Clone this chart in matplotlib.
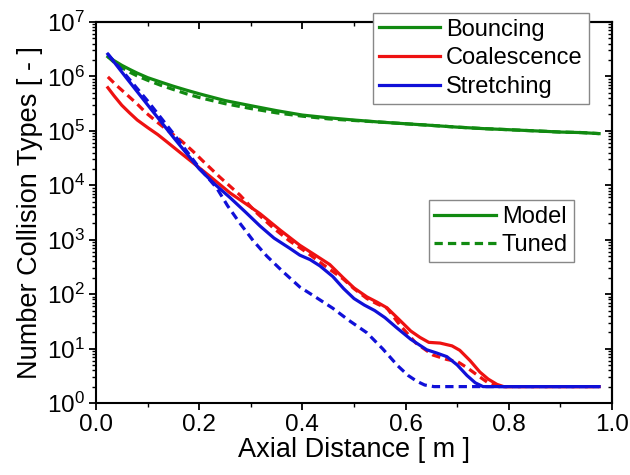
import numpy as np
import matplotlib
matplotlib.use('Agg')
import matplotlib.pyplot as plt
from matplotlib.ticker import LogLocator, MultipleLocator, NullFormatter
from matplotlib.lines import Line2D

plt.rcParams['font.family'] = ['Liberation Sans', 'DejaVu Sans']
plt.rcParams['mathtext.fontset'] = 'custom'
plt.rcParams['mathtext.rm'] = 'Liberation Sans'

# data (x in m, y as counts)
bounce_x = [0.023, 0.035, 0.05, 0.065, 0.08, 0.10, 0.125, 0.15, 0.175, 0.20, 0.25, 0.30, 0.35,
            0.40, 0.45, 0.50, 0.55, 0.60, 0.65, 0.70, 0.75, 0.80, 0.85, 0.90, 0.94, 0.975]
bounce_model = [2.3e6, 1.95e6, 1.6e6, 1.35e6, 1.15e6, 9.5e5, 7.9e5, 6.6e5, 5.6e5, 4.8e5, 3.6e5, 2.9e5, 2.35e5,
                1.95e5, 1.74e5, 1.58e5, 1.45e5, 1.35e5, 1.26e5, 1.17e5, 1.10e5, 1.05e5, 1.0e5, 9.5e4, 9.3e4, 8.9e4]
bounce_tuned = [2.3e6, 1.82e6, 1.45e6, 1.2e6, 1.02e6, 8.5e5, 6.9e5, 5.75e5, 4.8e5, 4.1e5, 3.16e5, 2.57e5, 2.14e5,
                1.86e5, 1.66e5, 1.55e5, 1.45e5, 1.35e5, 1.26e5, 1.17e5, 1.10e5, 1.05e5, 1.0e5, 9.5e4, 9.3e4, 8.9e4]

coal_x_model = [0.023, 0.035, 0.05, 0.065, 0.08, 0.10, 0.12, 0.14, 0.163, 0.19, 0.22, 0.26, 0.29, 0.318,
                0.357, 0.395, 0.425, 0.453, 0.479, 0.50, 0.525, 0.545, 0.564, 0.589, 0.61, 0.628, 0.645,
                0.667, 0.69, 0.705, 0.725, 0.744, 0.76, 0.777, 0.79, 0.975]
coal_model = [6.2e5, 4.4e5, 2.95e5, 2.14e5, 1.58e5, 1.15e5, 8.5e4, 6.0e4, 4.0e4, 2.5e4, 1.48e4, 7.2e3, 4.6e3, 3.0e3,
              1.5e3, 7.9e2, 5.2e2, 3.5e2, 2.0e2, 1.3e2, 89, 71, 56, 33, 21, 16, 13,
              12.6, 11.2, 9.3, 6.0, 3.7, 2.75, 2.2, 2.0, 2.0]
coal_x_tuned = [0.023, 0.04, 0.06, 0.08, 0.097, 0.12, 0.14, 0.165, 0.188, 0.207, 0.24, 0.279, 0.31, 0.343,
                0.375, 0.409, 0.44, 0.479, 0.50, 0.525, 0.545, 0.564, 0.589, 0.62, 0.653, 0.68, 0.70, 0.72,
                0.744, 0.76, 0.78, 0.975]
coal_tuned = [9.8e5, 6.8e5, 4.6e5, 3.1e5, 2.14e5, 1.41e5, 1.0e5, 6.6e4, 4.2e4, 2.8e4, 1.41e4, 6.6e3, 3.2e3, 1.66e3,
              9.5e2, 5.8e2, 3.5e2, 1.9e2, 1.26e2, 83, 66, 55, 27, 12.6, 7.6, 6.3, 5.8, 4.4,
              3.0, 2.35, 2.0, 2.0]

str_x_model = [0.023, 0.06, 0.10, 0.15, 0.20, 0.23, 0.26, 0.29, 0.318, 0.345, 0.376, 0.395, 0.415, 0.434,
               0.459, 0.48, 0.50, 0.52, 0.54, 0.56, 0.583, 0.61, 0.641, 0.66, 0.68, 0.70, 0.719, 0.735,
               0.75, 0.975]
str_model = [2.57e6, 9.1e5, 3.0e5, 7.6e4, 2.0e4, 1.05e4, 5.9e3, 3.2e3, 1.78e3, 1.07e3, 6.9e2, 5.2e2, 4.3e2, 3.3e2,
             2.1e2, 1.26e2, 83, 63, 50, 37, 24, 14.8, 9.5, 8.3, 7.1, 5.0, 3.2, 2.35,
             2.0, 2.0]
str_x_tuned = [0.023, 0.06, 0.10, 0.15, 0.20, 0.234, 0.255, 0.279, 0.305, 0.331, 0.362, 0.395, 0.425, 0.459,
               0.49, 0.525, 0.556, 0.585, 0.605, 0.622, 0.637, 0.655, 0.975]
str_tuned = [2.57e6, 1.0e6, 3.55e5, 8.9e4, 2.1e4, 8.9e3, 4.2e3, 2.0e3, 9.5e2, 5.0e2, 2.6e2, 1.35e2, 89, 55,
             33, 19.5, 9.8, 4.8, 3.2, 2.5, 2.14, 2.0, 2.0]

green = '#118a11'
red = '#ee1111'
blue = '#1010d8'
lw = 2.3
dash = (2.6, 1.6)

fig = plt.figure(figsize=(6.3, 4.75), dpi=100)
ax = fig.add_axes([0.1524, 0.1516, 0.819, 0.8021])

ax.plot(bounce_x, bounce_model, color=green, lw=lw)
ax.plot(bounce_x, bounce_tuned, color=green, lw=lw, dashes=dash)
ax.plot(coal_x_model, coal_model, color=red, lw=lw)
ax.plot(coal_x_tuned, coal_tuned, color=red, lw=lw, dashes=dash)
ax.plot(str_x_model, str_model, color=blue, lw=lw)
ax.plot(str_x_tuned, str_tuned, color=blue, lw=lw, dashes=dash)

ax.set_yscale('log')
ax.set_xlim(0, 1.0)
ax.set_ylim(1, 1e7)
ax.xaxis.set_major_locator(MultipleLocator(0.2))
ax.xaxis.set_minor_locator(MultipleLocator(0.1))
ax.yaxis.set_major_locator(LogLocator(base=10, numticks=10))
ax.yaxis.set_minor_locator(LogLocator(base=10, subs=np.arange(2, 10), numticks=20))
ax.yaxis.set_minor_formatter(NullFormatter())
ax.tick_params(which='major', direction='out', length=5, width=1.3, labelsize=17.5, pad=3)
ax.tick_params(which='minor', direction='out', length=3, width=1.0)
for s in ax.spines.values():
    s.set_linewidth(1.5)

# mirrored ticks pointing inward on top and right
top = ax.secondary_xaxis('top')
top.xaxis.set_major_locator(MultipleLocator(0.2))
top.xaxis.set_minor_locator(MultipleLocator(0.1))
top.tick_params(which='major', direction='in', length=5, width=1.3, labeltop=False)
top.tick_params(which='minor', direction='in', length=3, width=1.0)
top.spines['top'].set_linewidth(1.5)
right = ax.secondary_yaxis('right')
right.yaxis.set_major_locator(LogLocator(base=10, numticks=10))
right.yaxis.set_minor_locator(LogLocator(base=10, subs=np.arange(2, 10), numticks=20))
right.tick_params(which='major', direction='in', length=5, width=1.3, labelright=False)
right.tick_params(which='minor', direction='in', length=3, width=1.0, labelright=False)
right.spines['right'].set_linewidth(1.5)

ax.set_xlabel('Axial Distance [ m ]', fontsize=19.5, labelpad=1)
ax.set_ylabel('Number Collision Types [ - ]', fontsize=19.5, labelpad=3)

h1 = [Line2D([], [], color=green, lw=lw), Line2D([], [], color=red, lw=lw), Line2D([], [], color=blue, lw=lw)]
leg1 = ax.legend(h1, ['Bouncing', 'Coalescence', 'Stretching'], loc='upper right',
                 bbox_to_anchor=(0.955, 1.024), fontsize=17, fancybox=False, framealpha=1,
                 edgecolor='#888888', handlelength=2.6, handletextpad=0.25, labelspacing=0.28,
                 borderpad=0.25, borderaxespad=0)
leg1.get_frame().set_linewidth(1.0)
ax.add_artist(leg1)

h2 = [Line2D([], [], color=green, lw=lw), Line2D([], [], color=green, lw=lw, dashes=dash)]
leg2 = ax.legend(h2, ['Model', 'Tuned'], loc='upper right', bbox_to_anchor=(0.926, 0.533),
                 fontsize=17, fancybox=False, framealpha=1, edgecolor='#888888',
                 handlelength=2.6, handletextpad=0.25, labelspacing=0.28, borderpad=0.25,
                 borderaxespad=0)
leg2.get_frame().set_linewidth(1.0)

fig.savefig('out.png', dpi=100)
